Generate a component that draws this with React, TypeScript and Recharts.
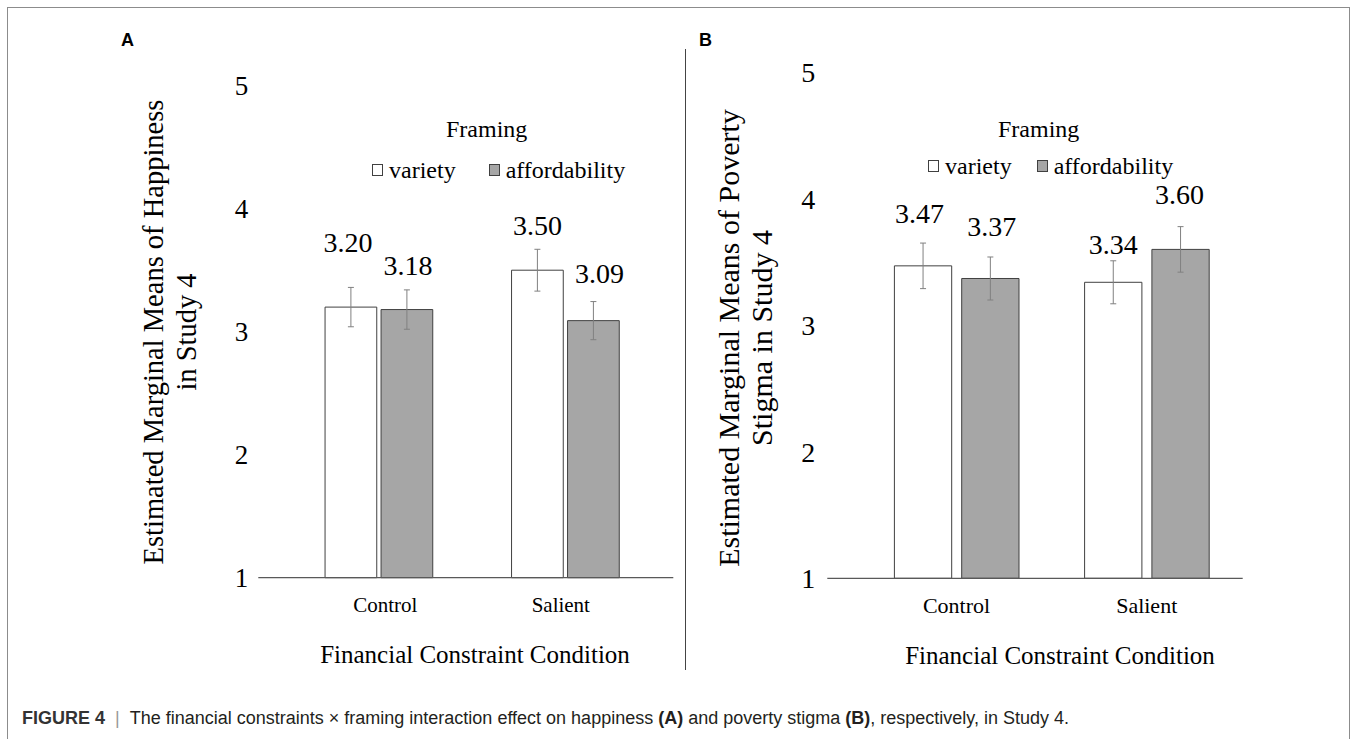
import { Bar, BarChart, ErrorBar, LabelList, Legend, XAxis, YAxis } from "recharts";

const conditions = ["Control", "Salient"];
const framings = ["variety", "affordability"];
const yTicks = [1, 2, 3, 4, 5];

// (A) happiness
const happinessVariety = [3.2, 3.5];
const happinessVarietySE = [0.16, 0.17];
const happinessAfford = [3.18, 3.09];
const happinessAffordSE = [0.16, 0.155];

// (B) poverty stigma
const stigmaVariety = [3.47, 3.34];
const stigmaVarietySE = [0.18, 0.17];
const stigmaAfford = [3.37, 3.6];
const stigmaAffordSE = [0.17, 0.18];

const SERIF = "'Liberation Serif', 'DejaVu Serif', serif";
const SANS = "'Liberation Sans', Arial, sans-serif";
const BAR_STROKE = "#404040";
const GREY_FILL = "#a6a6a6";
const ERR_STROKE = "#808080";

const buildRows = (v: number[], vSE: number[], a: number[], aSE: number[]) =>
  conditions.map((condition, i) => ({
    condition,
    variety: v[i],
    varietySE: vSE[i],
    affordability: a[i],
    affordabilitySE: aSE[i],
  }));

type PanelProps = {
  left: number;
  width: number;
  height: number;
  margin: { top: number; right: number; bottom: number; left: number };
  yAxisWidth: number;
  yTickMargin: number;
  yTickSize: number;
  pad: { left: number; right: number };
  barSize: number;
  barGap: number;
  rows: ReturnType<typeof buildRows>;
  yTitle: string[];
  yTitleX: number[];
  yTitleY: number;
  yTitleSize: number;
  xTitleX: number;
  xTitleSize: number;
  catSize: number;
  catNudge: number[];
  liftVariety: number[];
  liftAfford: number[];
  dxVariety: number[];
  dxAfford: number[];
  legend: { left: number; top: number; indent: number; rowGap: number; itemGap: number };
};

// value label floating above each bar
const valueLabel = (lift: number[], dx: number[]) => (props: any) => {
  const { x, y, width, value, index } = props;
  return (
    <text
      x={x + width / 2 + dx[index]}
      y={y - lift[index]}
      textAnchor="middle"
      dominantBaseline="central"
      fontFamily={SERIF}
      fontSize={28}
      fill="#000"
    >
      {Number(value).toFixed(2)}
    </text>
  );
};

function FramingLegend({ payload, indent, rowGap, itemGap }: any) {
  // keep the series order (variety, then affordability)
  const items = framings
    .map((f) => (payload || []).find((p: any) => p.value === f))
    .filter(Boolean);
  return (
    <div style={{ fontFamily: SERIF, fontSize: 24, lineHeight: "24px", color: "#000" }}>
      <div style={{ paddingLeft: indent }}>Framing</div>
      <div style={{ display: "flex", alignItems: "center", marginTop: rowGap }}>
        {items.map((p: any, i: number) => (
          <div
            key={p.value}
            style={{ display: "flex", alignItems: "center", marginLeft: i ? itemGap : 0 }}
          >
            <span
              style={{
                display: "inline-block",
                width: 11,
                height: 12,
                boxSizing: "border-box",
                border: `1px solid ${BAR_STROKE}`,
                background: p.color,
                marginRight: 6,
              }}
            />
            <span>{p.value}</span>
          </div>
        ))}
      </div>
    </div>
  );
}

function Panel(p: PanelProps) {
  return (
    <div style={{ position: "absolute", left: p.left, top: 0 }}>
      <BarChart
        width={p.width}
        height={p.height}
        data={p.rows}
        margin={p.margin}
        barSize={p.barSize}
        barGap={p.barGap}
      >
        <XAxis
          dataKey="condition"
          height={100}
          padding={p.pad}
          axisLine={{ stroke: "#595959", strokeWidth: 1.3 }}
          tickLine={false}
          tickMargin={13}
          tick={(t: any) => (
            <text
              x={t.x + p.catNudge[t.index]}
              y={t.y}
              dy="0.71em"
              textAnchor="middle"
              fontFamily={SERIF}
              fontSize={p.catSize}
              fill="#000"
            >
              {t.payload.value}
            </text>
          )}
          label={(l: any) => (
            <text
              x={p.xTitleX}
              y={l.viewBox.y + 85.3}
              textAnchor="middle"
              fontFamily={SERIF}
              fontSize={p.xTitleSize}
              fill="#000"
            >
              Financial Constraint Condition
            </text>
          )}
        />
        <YAxis
          type="number"
          domain={[1, 5]}
          ticks={yTicks}
          interval={0}
          width={p.yAxisWidth}
          axisLine={false}
          tickLine={false}
          tickMargin={p.yTickMargin}
          tick={{ fill: "#000", fontSize: p.yTickSize, fontFamily: SERIF }}
          label={() => (
            <g>
              {p.yTitle.map((line, i) => (
                <text
                  key={line}
                  x={p.yTitleX[i]}
                  y={p.yTitleY}
                  transform={`rotate(-90, ${p.yTitleX[i]}, ${p.yTitleY})`}
                  textAnchor="middle"
                  dominantBaseline="central"
                  fontFamily={SERIF}
                  fontSize={p.yTitleSize}
                  fill="#000"
                >
                  {line}
                </text>
              ))}
            </g>
          )}
        />
        <Legend
          verticalAlign="middle"
          align="center"
          wrapperStyle={{ left: p.legend.left, top: p.legend.top, width: "auto" }}
          content={(lp: any) => (
            <FramingLegend
              payload={lp.payload}
              indent={p.legend.indent}
              rowGap={p.legend.rowGap}
              itemGap={p.legend.itemGap}
            />
          )}
        />
        <Bar
          dataKey="variety"
          name="variety"
          fill="#ffffff"
          stroke={BAR_STROKE}
          strokeWidth={1}
          isAnimationActive={false}
        >
          <ErrorBar dataKey="varietySE" width={3} stroke={ERR_STROKE} strokeWidth={1} direction="y" />
          <LabelList dataKey="variety" content={valueLabel(p.liftVariety, p.dxVariety)} />
        </Bar>
        <Bar
          dataKey="affordability"
          name="affordability"
          fill={GREY_FILL}
          stroke={BAR_STROKE}
          strokeWidth={1}
          isAnimationActive={false}
        >
          <ErrorBar dataKey="affordabilitySE" width={3} stroke={ERR_STROKE} strokeWidth={1} direction="y" />
          <LabelList dataKey="affordability" content={valueLabel(p.liftAfford, p.dxAfford)} />
        </Bar>
      </BarChart>
    </div>
  );
}

const panelLetter = (left: number): React.CSSProperties => ({
  position: "absolute",
  left,
  top: 30,
  fontFamily: SANS,
  fontWeight: 700,
  fontSize: 18,
  lineHeight: "20px",
  color: "#000",
});

export default function App() {
  return (
    <div
      style={{
        position: "absolute",
        left: 0,
        top: 0,
        width: 1356,
        height: 739,
        overflow: "hidden",
        background: "#fff",
      }}
    >
      <div
        style={{
          position: "absolute",
          left: 7,
          top: 7,
          width: 1341,
          height: 800,
          border: "1px solid #8c8c8c",
        }}
      />
      <Panel
        left={0}
        width={685}
        height={690}
        margin={{ top: 85.7, right: 11.7, bottom: 12.3, left: 0 }}
        yAxisWidth={258.3}
        yTickMargin={4}
        yTickSize={27}
        pad={{ left: 27.75, right: 14.25 }}
        barSize={51.7}
        barGap={4.3}
        rows={buildRows(happinessVariety, happinessVarietySE, happinessAfford, happinessAffordSE)}
        yTitle={["Estimated Marginal Means of  Happiness", "in Study 4"]}
        yTitleX={[153, 186]}
        yTitleY={332}
        yTitleSize={28.5}
        xTitleX={475}
        xTitleSize={25}
        catSize={21}
        catNudge={[6, -5]}
        liftVariety={[65, 45]}
        liftAfford={[44, 47]}
        dxVariety={[-3, 0]}
        dxAfford={[1, 6]}
        legend={{ left: 372, top: 117, indent: 74, rowGap: 17, itemGap: 33 }}
      />
      <Panel
        left={685}
        width={671}
        height={690}
        margin={{ top: 72.3, right: 113.3, bottom: 11.7, left: 0 }}
        yAxisWidth={142.3}
        yTickMargin={6}
        yTickSize={28}
        pad={{ left: 34.1, right: 0.9 }}
        barSize={57.3}
        barGap={10}
        rows={buildRows(stigmaVariety, stigmaVarietySE, stigmaAfford, stigmaAffordSE)}
        yTitle={["Estimated Marginal Means of Poverty", "Stigma in Study 4"]}
        yTitleX={[43, 76]}
        yTitleY={338}
        yTitleSize={30}
        xTitleX={375}
        xTitleSize={25}
        catSize={22}
        catNudge={[0, 0]}
        liftVariety={[52.7, 38]}
        liftAfford={[52, 55]}
        dxVariety={[-3.5, 0]}
        dxAfford={[1.5, -1]}
        legend={{ left: 243, top: 117, indent: 70, rowGap: 13, itemGap: 25 }}
      />
      <div
        style={{
          position: "absolute",
          left: 685,
          top: 49,
          width: 1,
          height: 621,
          background: "#444",
        }}
      />
      <div style={panelLetter(121)}>A</div>
      <div style={panelLetter(699)}>B</div>
      <div
        style={{
          position: "absolute",
          left: 22,
          top: 708,
          fontFamily: SANS,
          fontSize: 18,
          lineHeight: "20px",
          color: "#231f20",
          whiteSpace: "nowrap",
        }}
      >
        <b style={{ color: "#333" }}>FIGURE 4</b>
        <span style={{ color: "#999", margin: "0 10px" }}>|</span>
        The financial constraints × framing interaction effect on happiness <b>(A)</b> and poverty
        stigma <b>(B)</b>, respectively, in Study 4.
      </div>
    </div>
  );
}
